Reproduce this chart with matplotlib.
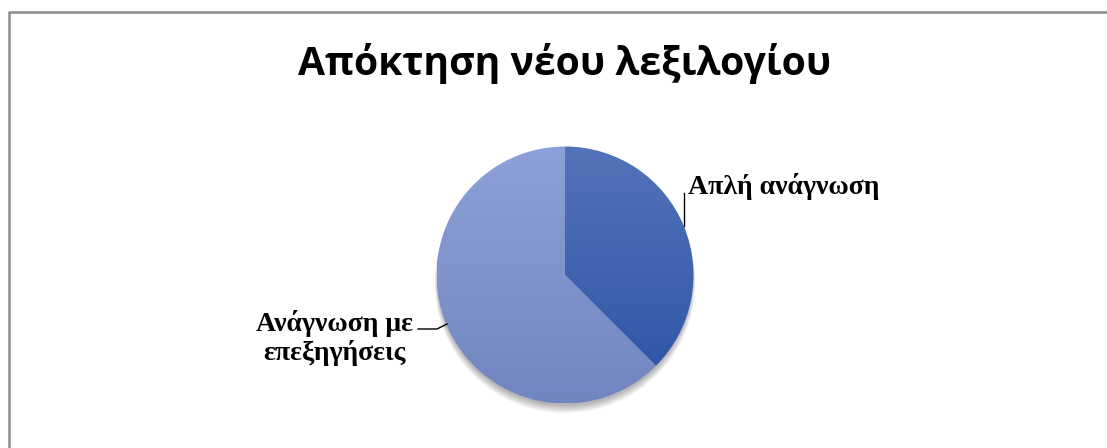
import numpy as np
import matplotlib.pyplot as plt
from matplotlib.colors import LinearSegmentedColormap
from matplotlib.patches import Circle

# data
labels = ['Απλή ανάγνωση', 'Ανάγνωση με\nεπεξηγήσεις']
values = [3, 5]
title = 'Απόκτηση νέου λεξιλογίου'

# gradient colours (top, bottom) for each slice
grad_colors = [('#5373B9', '#2B53A6'), ('#8DA1D8', '#7186C0')]

W, H = 1107, 448
fig = plt.figure(figsize=(W / 100, H / 100), dpi=100)
ax = fig.add_axes([0, 0, 1, 1])

cx, cy, r = 565, H - 275, 128.5

# soft shadow under the pie
for k in range(8):
    ax.add_patch(Circle((cx, cy - 3 - k * 0.7), r - 1 + k * 0.4,
                        color='black', alpha=0.04, lw=0, zorder=0))

wedges, _ = ax.pie(values, center=(cx, cy), radius=r, startangle=90,
                   counterclock=False, wedgeprops=dict(lw=0))

for w, (c_top, c_bot) in zip(wedges, grad_colors):
    w.set_facecolor('none')
    cmap = LinearSegmentedColormap.from_list('g', [c_bot, c_top])
    grad = np.linspace(0, 1, 256).reshape(-1, 1)
    im = ax.imshow(grad, cmap=cmap, origin='lower', aspect='auto',
                   extent=[cx - r, cx + r, cy - r, cy + r], zorder=2)
    im.set_clip_path(w)

ax.set_xlim(0, W)
ax.set_ylim(0, H)
ax.set_aspect('auto')
ax.axis('off')

# frame
ax.plot([8.5, 8.5, W + 5], [-5, H - 11.5, H - 11.5], color='#8C8C8C', lw=1.8,
        solid_capstyle='butt', zorder=5)

ax.text(cx, H - 63, title, ha='center', va='center', fontsize=28.2,
        fontweight='bold', family='Open Sans')

serif = dict(family='Liberation Serif', fontweight='bold', fontsize=20)
ax.text(688, H - 186, labels[0], ha='left', va='center', **serif)
ax.text(334, H - 338, labels[1], ha='center', va='center',
        linespacing=1.15, **serif)

# leader lines
ax.plot([684, 684], [H - 193, H - 226], color='black', lw=1, zorder=4)
ax.plot([418, 437, 447], [H - 329, H - 329, H - 324], color='black', lw=1, zorder=4)

fig.savefig('out.png', dpi=100)
